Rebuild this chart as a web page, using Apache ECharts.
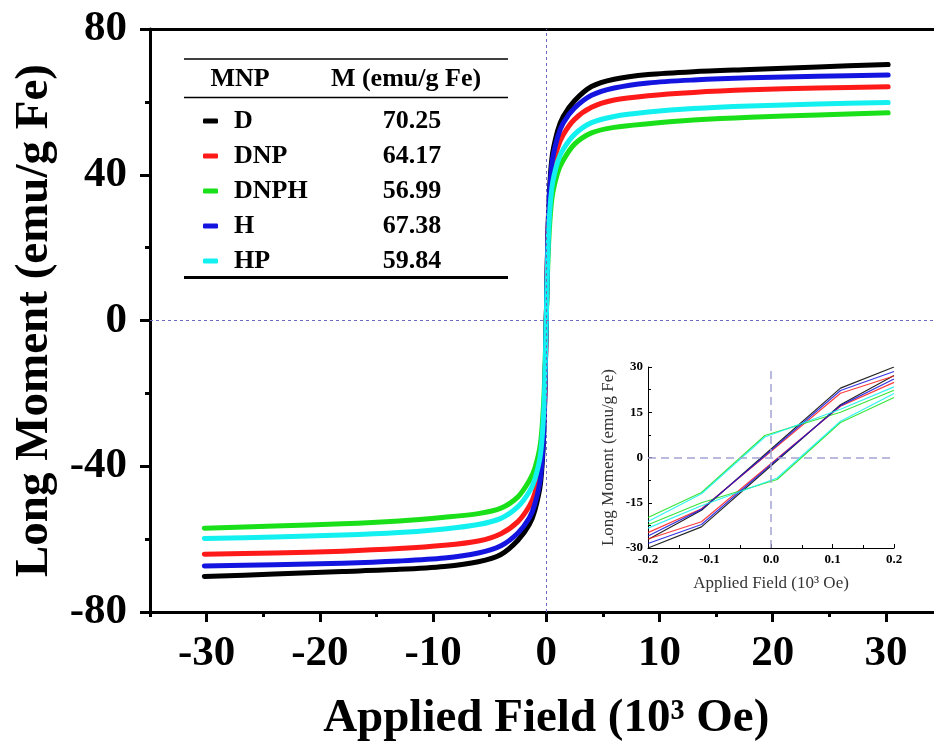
<!DOCTYPE html>
<html>
<head>
<meta charset="utf-8">
<script src="https://cdn.jsdelivr.net/npm/echarts@6/dist/echarts.min.js"></script>
<style>
  html, body { margin: 0; padding: 0; background: #fff; }
  #chart { width: 934px; height: 750px; }
</style>
</head>
<body>
<div id="chart"></div>
<script>
// main loop, applied field in 10^3 Oe
var fieldK = [-30.2, -24, -18, -13, -9, -6, -4, -2.5, -1.5, -1, -0.5, -0.2, 0,
              0.2, 0.5, 1, 1.5, 2.5, 4, 6, 9, 13, 18, 24, 30.2];
var momentD    = [-70.25, -69.6, -68.9, -68.3, -67.5, -66.2, -64.2, -60.3, -56.0, -52.0, -44.5, -29.5, 0,
                  29.5, 44.5, 52.0, 56.0, 60.3, 64.2, 66.2, 67.5, 68.3, 68.9, 69.6, 70.25];
var momentDNP  = [-64.17, -63.8, -63.3, -62.6, -61.7, -60.5, -58.5, -55.2, -51.0, -47.3, -40.5, -27.0, 0,
                  27.0, 40.5, 47.3, 51.0, 55.2, 58.5, 60.5, 61.7, 62.6, 63.3, 63.8, 64.17];
var momentDNPH = [-56.99, -56.4, -55.8, -55.0, -54.0, -53.0, -51.5, -48.4, -44.0, -40.5, -33.5, -20.5, 0,
                  20.5, 33.5, 40.5, 44.0, 48.4, 51.5, 53.0, 54.0, 55.0, 55.8, 56.4, 56.99];
var momentH    = [-67.38, -67.0, -66.6, -66.0, -65.2, -63.8, -61.8, -58.3, -54.2, -50.3, -43.0, -28.5, 0,
                  28.5, 43.0, 50.3, 54.2, 58.3, 61.8, 63.8, 65.2, 66.0, 66.6, 67.0, 67.38];
var momentHP   = [-59.84, -59.4, -58.9, -58.2, -57.2, -56.0, -54.3, -51.1, -47.0, -43.5, -36.5, -23.5, 0,
                  23.5, 36.5, 43.5, 47.0, 51.1, 54.3, 56.0, 57.2, 58.2, 58.9, 59.4, 59.84];

// inset: descending and ascending branches near zero field
var insetDescField = [0.2, 0.113, -0.01, -0.113, -0.2];
var insetAscField  = [-0.2, -0.113, 0.01, 0.113, 0.2];
var descD    = [30.0, 23.0, 1.0, -17.5, -27.2];
var ascD     = [-30.0, -23.0, -1.0, 17.5, 27.2];
var descDNP  = [27.0, 21.3, 0.3, -17.0, -24.9];
var ascDNP   = [-27.0, -21.3, -0.3, 17.0, 24.9];
var descDNPH = [22.3, 15.0, 7.3, -11.6, -19.9];
var ascDNPH  = [-22.3, -15.0, -7.3, 11.6, 19.9];
var descH    = [28.5, 22.2, 0.6, -17.2, -26.0];
var ascH     = [-28.5, -22.2, -0.6, 17.2, 26.0];
var descHP   = [23.4, 16.0, 6.8, -12.0, -21.2];
var ascHP    = [-23.4, -16.0, -6.8, 12.0, 21.2];

var sampleNames = ['D', 'DNP', 'DNPH', 'H', 'HP'];
var satMoment = [70.25, 64.17, 56.99, 67.38, 59.84];
var tableHeader = ['MNP', 'M (emu/g Fe)'];
var mainXTicks = [-30, -20, -10, 0, 10, 20, 30];

var colors = ['#000000', '#ff1a1a', '#19e019', '#1414e0', '#12f0f0'];
var serif = '"Liberation Serif", "Times New Roman", serif';

var mainMoments = [momentD, momentDNP, momentDNPH, momentH, momentHP];
var descSets = [descD, descDNP, descDNPH, descH, descHP];
var ascSets = [ascD, ascDNP, ascDNPH, ascH, ascHP];

function pairs(xs, ys) {
    return xs.map(function (x, i) { return [x, ys[i]]; });
}

var series = [];
// dashed zero lines, main plot
series.push({
    type: 'line', xAxisIndex: 0, yAxisIndex: 0, data: [], z: 1,
    markLine: {
        silent: true, symbol: 'none', label: { show: false },
        lineStyle: { color: '#6b6bc4', type: [3, 3], width: 1 },
        data: [{ xAxis: 0 }, { yAxis: 0 }]
    }
});
sampleNames.forEach(function (name, i) {
    series.push({
        name: name, type: 'line', xAxisIndex: 0, yAxisIndex: 0, z: 2,
        showSymbol: false, smooth: 0.3,
        lineStyle: { color: colors[i], width: 5, cap: 'round', join: 'round' },
        itemStyle: { color: colors[i] },
        data: pairs(fieldK, mainMoments[i])
    });
});
// inset
series.push({
    type: 'line', xAxisIndex: 3, yAxisIndex: 1, data: [], z: 1,
    markLine: {
        silent: true, symbol: 'none', label: { show: false },
        lineStyle: { color: '#a4a4d4', type: [8, 5], width: 1.5 },
        data: [{ xAxis: 0 }, { yAxis: 0 }]
    }
});
sampleNames.forEach(function (name, i) {
    [pairs(insetDescField, descSets[i]), pairs(insetAscField, ascSets[i])].forEach(function (d) {
        series.push({
            name: name, type: 'line', xAxisIndex: 3, yAxisIndex: 1, z: 2,
            showSymbol: false,
            lineStyle: { color: colors[i], width: 1.2, opacity: 0.85 },
            itemStyle: { color: colors[i] },
            data: d
        });
    });
});

var chart = echarts.init(document.getElementById('chart'));
chart.setOption({
    backgroundColor: '#ffffff',
    animation: false,
    grid: [
        { left: 150, top: 29, width: 792.5, bottom: 138, outerBoundsMode: 'none', containLabel: false },
        { left: 648, top: 367, width: 246, height: 181, outerBoundsMode: 'none' }
    ],
    legend: {
        data: sampleNames,
        orient: 'vertical',
        left: 198, top: 103,
        itemWidth: 15, itemHeight: 5, itemGap: 9,
        icon: 'roundRect',
        selectedMode: false,
        formatter: function (name) {
            var i = sampleNames.indexOf(name);
            return '{p|}{n|' + name + '}{v|' + satMoment[i].toFixed(2) + '}';
        },
        textStyle: {
            fontFamily: serif, fontSize: 26, fontWeight: 'bold', color: '#000', lineHeight: 26,
            rich: {
                p: { width: 11 },
                n: { width: 128, fontFamily: serif, fontSize: 26, fontWeight: 'bold', color: '#000' },
                v: { width: 100, align: 'center', fontFamily: serif, fontSize: 26, fontWeight: 'bold', color: '#000' }
            }
        }
    },
    graphic: [
        { type: 'line', shape: { x1: 184, y1: 59, x2: 508, y2: 59 }, style: { stroke: '#000', lineWidth: 1.5 } },
        { type: 'line', shape: { x1: 184, y1: 97.5, x2: 508, y2: 97.5 }, style: { stroke: '#000', lineWidth: 1.5 } },
        { type: 'line', shape: { x1: 184, y1: 277.5, x2: 508, y2: 277.5 }, style: { stroke: '#000', lineWidth: 3 } },
        { type: 'text', x: 240, y: 79, style: { text: tableHeader[0], font: 'bold 26px ' + serif, fill: '#000', align: 'center', verticalAlign: 'middle' } },
        { type: 'text', x: 406, y: 79, style: { text: tableHeader[1], font: 'bold 26px ' + serif, fill: '#000', align: 'center', verticalAlign: 'middle' } }
    ],
    xAxis: [
        { // main bottom, minor ticks + line
            type: 'value', gridIndex: 0, position: 'bottom', min: -35, max: 35, interval: 5,
            axisLine: { onZero: false, lineStyle: { color: '#000', width: 3 } },
            axisTick: { show: true, inside: false, length: 5, lineStyle: { color: '#000', width: 3 } },
            axisLabel: { show: false },
            splitLine: { show: false }
        },
        { // main bottom, major ticks + labels
            type: 'value', gridIndex: 0, position: 'bottom', min: -35, max: 35,
            name: 'Applied Field (10³ Oe)', nameLocation: 'middle', nameGap: 83,
            nameTextStyle: { fontFamily: serif, fontSize: 47, fontWeight: 'bold', color: '#000' },
            axisLine: { show: false, onZero: false },
            axisTick: { show: true, length: 10, customValues: mainXTicks, lineStyle: { color: '#000', width: 3 } },
            axisLabel: {
                customValues: mainXTicks, margin: 20,
                fontFamily: serif, fontSize: 43, fontWeight: 'bold', color: '#000'
            },
            splitLine: { show: false }
        },
        { // main top frame
            type: 'value', gridIndex: 0, position: 'top', min: -35, max: 35,
            axisLine: { onZero: false, lineStyle: { color: '#000', width: 3 } },
            axisTick: { show: false }, axisLabel: { show: false }, splitLine: { show: false }
        },
        { // inset
            type: 'value', gridIndex: 1, min: -0.2, max: 0.2, interval: 0.1,
            name: 'Applied Field (10³ Oe)', nameLocation: 'middle', nameGap: 27,
            nameTextStyle: { fontFamily: serif, fontSize: 17, color: '#333' },
            axisLine: { onZero: false, lineStyle: { color: '#000', width: 1 } },
            axisTick: { inside: true, length: 4, lineStyle: { color: '#000' } },
            minorTick: { show: true, splitNumber: 2, length: 3, lineStyle: { color: '#000' } },
            axisLabel: {
                margin: 5, fontFamily: serif, fontSize: 13, fontWeight: 'bold', color: '#000',
                formatter: function (v) { return v.toFixed(1); }
            },
            splitLine: { show: false }
        }
    ],
    yAxis: [
        {
            type: 'value', gridIndex: 0, min: -80, max: 80, interval: 40,
            name: 'Long Moment (emu/g Fe)', nameLocation: 'middle', nameGap: 91,
            nameTextStyle: { fontFamily: serif, fontSize: 47, fontWeight: 'bold', color: '#000' },
            axisLine: { onZero: false, lineStyle: { color: '#000', width: 3 } },
            axisTick: { length: 10, lineStyle: { color: '#000', width: 3 } },
            minorTick: { show: true, splitNumber: 2, length: 5, lineStyle: { color: '#000', width: 3 } },
            axisLabel: { margin: 23, fontFamily: serif, fontSize: 43, fontWeight: 'bold', color: '#000' },
            splitLine: { show: false }
        },
        {
            type: 'value', gridIndex: 1, min: -30, max: 30, interval: 15,
            name: 'Long Moment (emu/g Fe)', nameLocation: 'middle', nameGap: 31,
            nameTextStyle: { fontFamily: serif, fontSize: 17, color: '#333' },
            axisLine: { onZero: false, lineStyle: { color: '#000', width: 1 } },
            axisTick: { inside: true, length: 4, lineStyle: { color: '#000' } },
            minorTick: { show: true, splitNumber: 2, length: 3, lineStyle: { color: '#000' } },
            axisLabel: { margin: 5, fontFamily: serif, fontSize: 13, fontWeight: 'bold', color: '#000' },
            splitLine: { show: false }
        }
    ],
    series: series
});
</script>
</body>
</html>
